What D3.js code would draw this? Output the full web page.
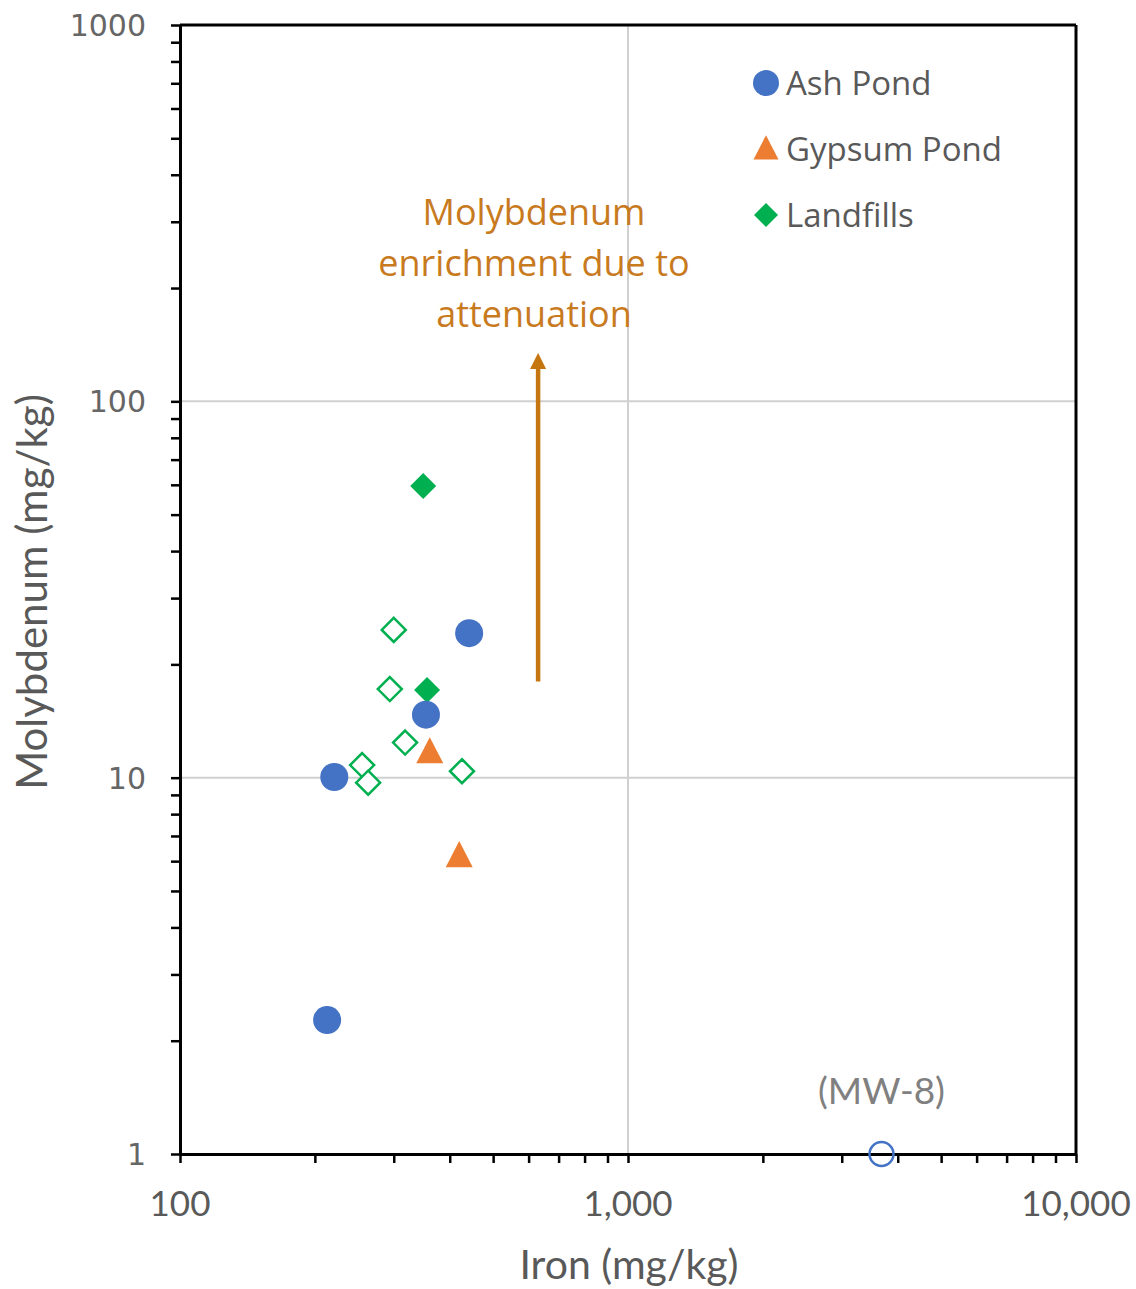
<!DOCTYPE html>
<html><head><meta charset="utf-8">
<script src="https://cdn.jsdelivr.net/npm/d3@7"></script>
<style>body{margin:0;background:#fff}svg{display:block}</style>
</head><body>
<script>
// ---- data ----
const ashIron = [213, 221, 354, 442];
const ashMo = [2.27, 10.04, 14.7, 24.2];
const mw8Iron = [3680];
const mw8Mo = [1.0];
const gypIron = [361, 420];
const gypMo = [11.7, 6.2];
const lfFilledIron = [349, 356];
const lfFilledMo = [59.6, 17.1];
const lfOpenIron = [300, 294, 318, 255, 263, 426];
const lfOpenMo = [24.7, 17.2, 12.4, 10.8, 9.7, 10.4];
const xTickLabels = ["100", "1,000", "10,000"];
const yTickLabels = ["1", "10", "100", "1000"];
const xMajor = [100, 1000, 10000];
const yMajor = [1, 10, 100, 1000];
const arrowIron = [630, 630];
const arrowMo = [18, 128];
const legendNames = ["Ash Pond", "Gypsum Pond", "Landfills"];
const annotationLines = ["Molybdenum", "enrichment due to", "attenuation"];

const W = 1136, H = 1289;
const L = 180, R = 1076, T = 25, B = 1154;
const blue = "#4472C4", orange = "#ED7D31", green = "#00B050";
const arrowCol = "#C5760F";
const font = "Lato, 'Open Sans', sans-serif";
const font2 = "'Open Sans', Lato, sans-serif";

const svg = d3.select("body").append("svg").attr("width", W).attr("height", H);
const x = d3.scaleLog().domain([100, 10000]).range([L, R]);
const y = d3.scaleLog().domain([1, 1000]).range([B, T]);

// gridlines
svg.append("g").selectAll("line").data([10, 100]).join("line")
  .attr("x1", L).attr("x2", R).attr("y1", d => y(d)).attr("y2", d => y(d))
  .attr("stroke", "#d0d0d0").attr("stroke-width", 2);
svg.append("g").selectAll("line").data([1000]).join("line")
  .attr("y1", T).attr("y2", B).attr("x1", d => x(d)).attr("x2", d => x(d))
  .attr("stroke", "#d0d0d0").attr("stroke-width", 2);

function logTicks(lo, hi) {
  const out = [];
  for (let p = lo; p < hi; p *= 10) for (let k = 1; k <= 9; k++) out.push(p * k);
  out.push(hi);
  return out;
}

// axes
const xAxis = d3.axisBottom(x).tickValues(logTicks(100, 10000)).tickFormat("").tickSize(9).tickSizeOuter(0);
const gx = svg.append("g").attr("transform", `translate(0,${B})`).call(xAxis);
gx.select(".domain").attr("stroke", "#000").attr("stroke-width", 3);
gx.selectAll(".tick line").attr("stroke", "#000").attr("stroke-width", 2.5);

const yAxis = d3.axisLeft(y).tickValues(logTicks(1, 1000)).tickFormat("").tickSize(9).tickSizeOuter(0);
const gy = svg.append("g").attr("transform", `translate(${L},0)`).call(yAxis);
gy.select(".domain").attr("stroke", "#000").attr("stroke-width", 3);
gy.selectAll(".tick line").attr("stroke", "#000").attr("stroke-width", 2.5);

// top & right borders
svg.append("line").attr("x1", L).attr("x2", R).attr("y1", T).attr("y2", T).attr("stroke", "#000").attr("stroke-width", 3);
svg.append("line").attr("x1", R).attr("x2", R).attr("y1", T).attr("y2", B).attr("stroke", "#000").attr("stroke-width", 3);

// tick labels
svg.append("g").selectAll("text").data(xMajor).join("text")
  .attr("x", d => x(d)).attr("y", 1216).attr("text-anchor", "middle")
  .attr("font-family", font).attr("font-size", 35).attr("fill", "#595959")
  .text((d, i) => xTickLabels[i]);
svg.append("g").selectAll("text").data(yMajor).join("text")
  .attr("x", 146).attr("y", d => y(d) + 11).attr("text-anchor", "end")
  .attr("font-family", "'DejaVu Sans', sans-serif").attr("font-size", 30).attr("fill", "#666")
  .text((d, i) => yTickLabels[i]);

// axis titles
svg.append("text").attr("x", 629).attr("y", 1279).attr("text-anchor", "middle")
  .attr("font-family", font).attr("font-size", 41).attr("fill", "#595959").text("Iron (mg/kg)");
svg.append("text").attr("transform", `translate(47,592) rotate(-90)`).attr("text-anchor", "middle")
  .attr("font-family", font).attr("font-size", 42).attr("fill", "#595959").text("Molybdenum (mg/kg)");

// marker helpers
const tri = (cx, cy, s) => `M${cx},${cy - s * 0.55}L${cx + s / 2},${cy + s * 0.42}L${cx - s / 2},${cy + s * 0.42}Z`;
const dia = (cx, cy, s) => `M${cx},${cy - s}L${cx + s},${cy}L${cx},${cy + s}L${cx - s},${cy}Z`;
const zip = (a, b) => a.map((v, i) => [v, b[i]]);

// arrow
svg.append("defs").append("marker").attr("id", "ah").attr("viewBox", "0 0 10 10")
  .attr("refX", 5).attr("refY", 5).attr("markerWidth", 3.6).attr("markerHeight", 3.6)
  .attr("orient", "auto").append("path").attr("d", "M0,0L10,5L0,10Z").attr("fill", arrowCol);
svg.append("line").attr("x1", x(arrowIron[0])).attr("y1", y(arrowMo[0]))
  .attr("x2", x(arrowIron[1])).attr("y2", y(arrowMo[1]))
  .attr("stroke", arrowCol).attr("stroke-width", 4.5).attr("marker-end", "url(#ah)");

// annotation
svg.append("g").selectAll("text").data(annotationLines).join("text")
  .attr("x", 534).attr("y", (d, i) => 225 + i * 51).attr("text-anchor", "middle")
  .attr("font-family", font2).attr("font-size", 36).attr("fill", "#C87A1E").text(d => d);

// points
svg.append("g").selectAll("path").data(zip(lfOpenIron, lfOpenMo)).join("path")
  .attr("d", d => dia(x(d[0]), y(d[1]), 12)).attr("fill", "#fff").attr("stroke", green).attr("stroke-width", 2.5);
svg.append("g").selectAll("path").data(zip(lfFilledIron, lfFilledMo)).join("path")
  .attr("d", d => dia(x(d[0]), y(d[1]), 13)).attr("fill", green);
svg.append("g").selectAll("circle").data(zip(ashIron, ashMo)).join("circle")
  .attr("cx", d => x(d[0])).attr("cy", d => y(d[1])).attr("r", 14).attr("fill", blue);
svg.append("g").selectAll("path").data(zip(gypIron, gypMo)).join("path")
  .attr("d", d => tri(x(d[0]), y(d[1]), 27)).attr("fill", orange);
svg.append("g").selectAll("circle").data(zip(mw8Iron, mw8Mo)).join("circle")
  .attr("cx", d => x(d[0])).attr("cy", d => y(d[1])).attr("r", 12)
  .attr("fill", "none").attr("stroke", blue).attr("stroke-width", 2.5);
svg.append("text").attr("x", x(mw8Iron[0])).attr("y", 1104).attr("text-anchor", "middle")
  .attr("font-family", font).attr("font-size", 37).attr("fill", "#808080").text("(MW-8)");

// legend
const lg = svg.append("g");
const ly = [83, 149, 215];
lg.append("circle").attr("cx", 766).attr("cy", ly[0]).attr("r", 13).attr("fill", blue);
lg.append("path").attr("d", tri(766, ly[1], 25)).attr("fill", orange);
lg.append("path").attr("d", dia(766, ly[2], 12)).attr("fill", green);
lg.selectAll("text").data(legendNames).join("text")
  .attr("x", 786).attr("y", (d, i) => ly[i] + 12)
  .attr("font-family", font2).attr("font-size", 33).attr("fill", "#595959").text(d => d);
</script>
</body></html>
